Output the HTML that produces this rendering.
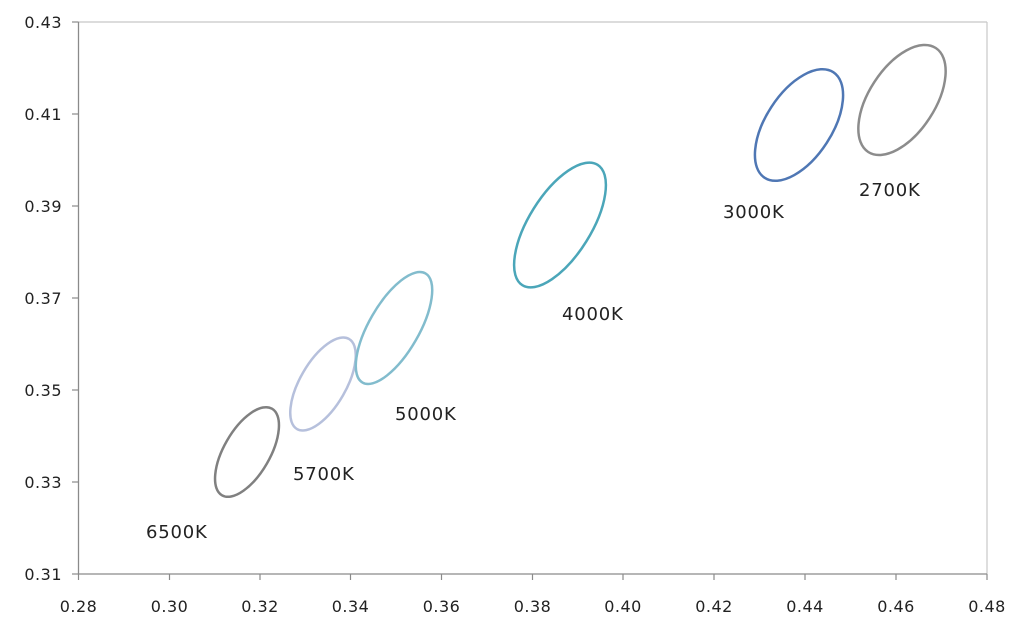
<!DOCTYPE html>
<html><head><meta charset="utf-8"><style>
html,body{margin:0;padding:0;background:#fff;}
svg{display:block;}
text{font-family:"DejaVu Sans","Liberation Sans",sans-serif;fill:#222;}
</style></head><body>
<svg width="1020" height="633" viewBox="0 0 1020 633">
<rect x="0" y="0" width="1020" height="633" fill="#fff"/>
<line x1="78.5" y1="22" x2="987" y2="22" stroke="#c8c8c8" stroke-width="1.2"/>
<line x1="987" y1="22" x2="987" y2="574" stroke="#c8c8c8" stroke-width="1.2"/>
<line x1="78.5" y1="22" x2="78.5" y2="574" stroke="#8a8a8a" stroke-width="1.3"/>
<line x1="78.5" y1="574" x2="987" y2="574" stroke="#8a8a8a" stroke-width="1.3"/>
<g stroke="#8a8a8a" stroke-width="1.2">
<line x1="72" y1="22" x2="78.5" y2="22"/><line x1="72" y1="114" x2="78.5" y2="114"/>
<line x1="72" y1="206" x2="78.5" y2="206"/><line x1="72" y1="298" x2="78.5" y2="298"/>
<line x1="72" y1="390" x2="78.5" y2="390"/><line x1="72" y1="482" x2="78.5" y2="482"/>
<line x1="72" y1="574" x2="78.5" y2="574"/>
<line x1="78.5" y1="574" x2="78.5" y2="580"/><line x1="169.5" y1="574" x2="169.5" y2="580"/>
<line x1="260" y1="574" x2="260" y2="580"/><line x1="350.5" y1="574" x2="350.5" y2="580"/>
<line x1="441.5" y1="574" x2="441.5" y2="580"/><line x1="532.5" y1="574" x2="532.5" y2="580"/>
<line x1="623" y1="574" x2="623" y2="580"/><line x1="714" y1="574" x2="714" y2="580"/>
<line x1="805" y1="574" x2="805" y2="580"/><line x1="896" y1="574" x2="896" y2="580"/>
<line x1="987" y1="574" x2="987" y2="580"/>
</g>
<g font-size="16" text-anchor="end" letter-spacing="0.5">
<text x="62" y="28">0.43</text><text x="62" y="120">0.41</text><text x="62" y="212">0.39</text>
<text x="62" y="304">0.37</text><text x="62" y="396">0.35</text><text x="62" y="488">0.33</text>
<text x="62" y="580">0.31</text>
</g>
<g font-size="16" text-anchor="middle" letter-spacing="0.5">
<text x="78.5" y="612">0.28</text><text x="169.5" y="612">0.30</text><text x="260" y="612">0.32</text>
<text x="350.5" y="612">0.34</text><text x="441.5" y="612">0.36</text><text x="532.5" y="612">0.38</text>
<text x="623" y="612">0.40</text><text x="714" y="612">0.42</text><text x="805" y="612">0.44</text>
<text x="896" y="612">0.46</text><text x="987" y="612">0.48</text>
</g>
<g fill="none" stroke-width="2.5">
<ellipse cx="247" cy="452" rx="50" ry="23" transform="rotate(-60 247 452)" stroke="#808080"/>
<ellipse cx="323" cy="384" rx="52" ry="23" transform="rotate(-60 323 384)" stroke="#b6c0dc"/>
<ellipse cx="394" cy="328" rx="63" ry="25" transform="rotate(-60 394 328)" stroke="#82bccd"/>
<ellipse cx="560" cy="225" rx="71" ry="31" transform="rotate(-58 560 225)" stroke="#4ba6b9"/>
<ellipse cx="799" cy="125" rx="63" ry="33" transform="rotate(-57 799 125)" stroke="#4f77b4"/>
<ellipse cx="902" cy="100" rx="62" ry="33" transform="rotate(-57 902 100)" stroke="#8c8c8c"/>
</g>
<g font-size="18" letter-spacing="0.8">
<text x="146" y="538">6500K</text>
<text x="293" y="480">5700K</text>
<text x="395" y="420">5000K</text>
<text x="562" y="320">4000K</text>
<text x="723" y="218">3000K</text>
<text x="859" y="196">2700K</text>
</g>
</svg>
</body></html>
